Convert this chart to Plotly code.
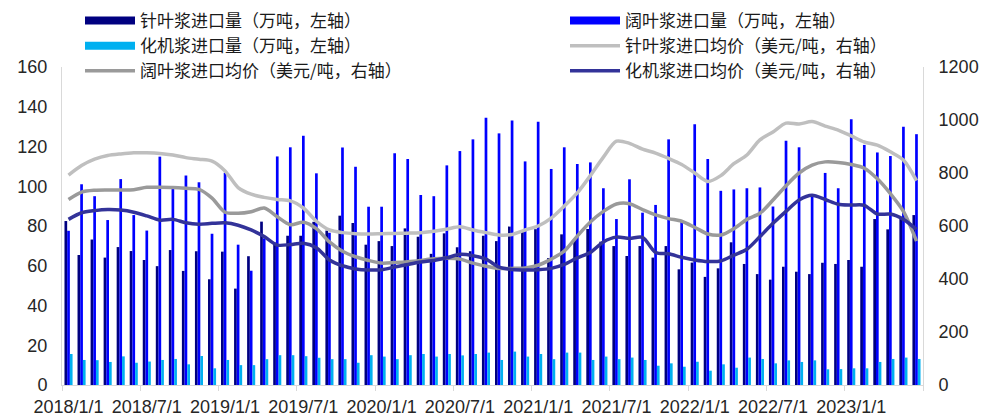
import plotly.graph_objects as go

months = [f"{y}/{m}/1" for y in range(2018, 2024) for m in range(1, 13)][:66]

softwood_vol = [82.5, 65.4, 73.2, 64.1, 69.4, 67.4, 62.9, 59.8, 67.9, 57.4, 67.3, 53.2,
                67.1, 48.5, 64.8, 82.2, 71.7, 75.1, 75.1, 82.1, 77.7, 85.2, 81.5, 70.6,
                72.4, 69.9, 78.8, 74.6, 66.0, 76.3, 69.3, 67.3, 75.1, 72.4, 79.7, 77.3,
                78.4, 63.9, 75.8, 72.9, 78.5, 72.1, 69.9, 64.9, 69.9, 64.1, 69.9, 58.2,
                61.6, 54.4, 58.7, 71.8, 60.9, 55.8, 53.0, 59.5, 57.0, 55.8, 61.5, 60.9,
                62.9, 59.5, 83.5, 78.3, 83.9, 85.5]
hardwood_vol = [77.6, 101.0, 95.0, 83.0, 103.6, 85.5, 77.7, 114.9, 100.0, 105.4, 102.0, 76.1,
                106.8, 70.6, 57.5, 73.8, 115.0, 119.6, 125.4, 106.5, 76.6, 119.5, 109.8, 89.7,
                89.7, 116.6, 113.7, 95.6, 95.0, 110.5, 117.7, 123.6, 134.5, 126.6, 133.1, 112.5,
                132.5, 108.7, 119.6, 111.2, 112.0, 99.0, 83.5, 103.5, 86.7, 90.6, 123.6, 82.8,
                131.2, 113.7, 97.7, 98.4, 99.0, 99.4, 89.8, 122.9, 119.6, 94.7, 106.7, 99.0,
                133.7, 120.8, 117.0, 115.2, 130.0, 126.2]
mech_vol = [15.6, 12.6, 12.5, 11.6, 14.4, 11.2, 11.8, 12.6, 13.1, 10.4, 14.6, 8.4,
            12.6, 10.0, 10.0, 13.0, 15.0, 15.0, 14.5, 13.7, 13.0, 13.0, 11.2, 15.0,
            14.3, 13.0, 15.0, 15.6, 14.3, 15.6, 14.9, 15.6, 16.3, 12.6, 16.8, 14.3,
            15.6, 13.0, 16.3, 16.3, 12.6, 14.3, 13.0, 13.8, 12.6, 9.7, 10.9, 9.2,
            11.7, 7.2, 10.4, 8.7, 13.8, 13.1, 10.9, 12.4, 11.6, 12.4, 7.9, 8.0,
            8.4, 8.4, 11.6, 13.1, 13.8, 13.1]

softwood_price = [792, 828, 852, 866, 872, 876, 876, 874, 868, 858, 852, 845,
                  808, 745, 720, 708, 700, 695, 668, 618, 585, 575, 571, 570,
                  571, 572, 573, 575, 580, 588, 597, 585, 575, 566, 568, 585,
                  600, 630, 675, 725, 790, 860, 920, 912, 890, 875, 855, 832,
                  800, 768, 790, 835, 868, 925, 955, 988, 985, 994, 977, 962,
                  940, 917, 905, 880, 849, 771]
hardwood_price = [700, 728, 735, 736, 736, 737, 746, 746, 745, 742, 738, 705,
                  652, 648, 654, 668, 635, 605, 614, 590, 540, 505, 484, 470,
                  460, 462, 465, 470, 476, 478, 475, 460, 448, 440, 440, 442,
                  452, 475, 505, 562, 615, 655, 683, 684, 662, 642, 628, 618,
                  595, 570, 566, 590, 625, 648, 698, 752, 800, 830, 842, 840,
                  832, 818, 778, 722, 655, 543]
mech_price = [625, 650, 658, 662, 660, 652, 638, 622, 625, 612, 607, 610,
              612, 603, 585, 560, 528, 530, 535, 518, 472, 450, 438, 434,
              435, 445, 455, 464, 470, 480, 493, 488, 475, 445, 436, 434,
              435, 440, 455, 480, 500, 540, 558, 553, 557, 500, 495, 482,
              472, 466, 468, 490, 512, 560, 610, 655, 698, 716, 700, 682,
              679, 678, 645, 645, 625, 587]

names = ["针叶浆进口量（万吨，左轴）", "阔叶浆进口量（万吨，左轴）", "化机浆进口量（万吨，左轴）",
         "针叶浆进口均价（美元/吨，右轴）", "阔叶浆进口均价（美元/吨，右轴）", "化机浆进口均价（美元/吨，右轴）"]
bar_colors = ["#000080", "#0000FF", "#00B0F0"]
line_colors = ["#BFBFBF", "#9A9A9A", "#333399"]

x = list(range(len(months)))
fig = go.Figure()

for vals, name, col in zip([softwood_vol, hardwood_vol, mech_vol], names[:3], bar_colors):
    fig.add_trace(go.Bar(x=x, y=vals, name=name, marker=dict(color=col, line=dict(width=0)),
                         showlegend=False, legendgroup=name, yaxis="y"))

for vals, name, col in zip([softwood_price, hardwood_price, mech_price], names[3:], line_colors):
    fig.add_trace(go.Scatter(x=x, y=vals, name=name, mode="lines", yaxis="y2",
                             line=dict(color=col, width=3.5, shape="spline", smoothing=0.8),
                             legendgroup=name, showlegend=False))

# legend entries (left column / right column)
legend_cols = {names[0]: "legend", names[2]: "legend", names[4]: "legend",
               names[1]: "legend2", names[3]: "legend2", names[5]: "legend2"}
all_colors = bar_colors + line_colors
for idx in [0, 2, 4, 1, 3, 5]:
    nm = names[idx]
    w = 8 if idx < 3 else 3.5
    fig.add_trace(go.Scatter(x=[None], y=[None], name=nm, mode="lines",
                             line=dict(color=all_colors[idx], width=w),
                             legend=legend_cols[nm], legendgroup=nm, showlegend=True,
                             yaxis="y" if idx < 3 else "y2"))

tickfont = dict(family="Liberation Sans, Arial, sans-serif", size=18, color="#262626")
legfont = dict(family="Noto Sans CJK SC", size=17, color="#1a1a1a")

fig.update_layout(
    width=982, height=417,
    margin=dict(l=62, r=59, t=67, b=32, autoexpand=False),
    paper_bgcolor="white", plot_bgcolor="white",
    barmode="group", bargap=0.38, bargroupgap=0,
    xaxis=dict(range=[-0.5, len(months) - 0.5], tickmode="array",
               tickvals=x[::6], ticktext=months[::6], ticks="", tickfont=tickfont,
               tickangle=0,
               showline=True, linecolor="#D9D9D9", linewidth=1, showgrid=False, zeroline=False,
               ticklabelstandoff=5,
               minor=dict(tickmode="linear", tick0=-0.5, dtick=6, ticks="outside",
                          ticklen=5, tickcolor="#D9D9D9", showgrid=False)),
    yaxis=dict(range=[0, 160], dtick=20, showgrid=False, zeroline=False, ticks="",
               showline=True, linecolor="#D9D9D9", tickfont=tickfont, ticklabelstandoff=10),
    yaxis2=dict(range=[0, 1200], dtick=200, overlaying="y", side="right", showgrid=False,
                zeroline=False, ticks="", showline=True, linecolor="#D9D9D9",
                tickfont=tickfont, ticklabelstandoff=11),
    legend=dict(x=80 / 982, y=1 - 3 / 417, xref="container", yref="container",
                xanchor="left", yanchor="top", orientation="v", font=legfont,
                itemwidth=50, bgcolor="rgba(0,0,0,0)", tracegroupgap=0, traceorder="normal"),
    legend2=dict(x=565 / 982, y=1 - 3 / 417, xref="container", yref="container",
                 xanchor="left", yanchor="top", orientation="v", font=legfont,
                 itemwidth=50, bgcolor="rgba(0,0,0,0)", tracegroupgap=0, traceorder="normal"),
)

fig.write_html("out.html", post_script="document.body.style.margin='0px';",
               config={"displayModeBar": False})
